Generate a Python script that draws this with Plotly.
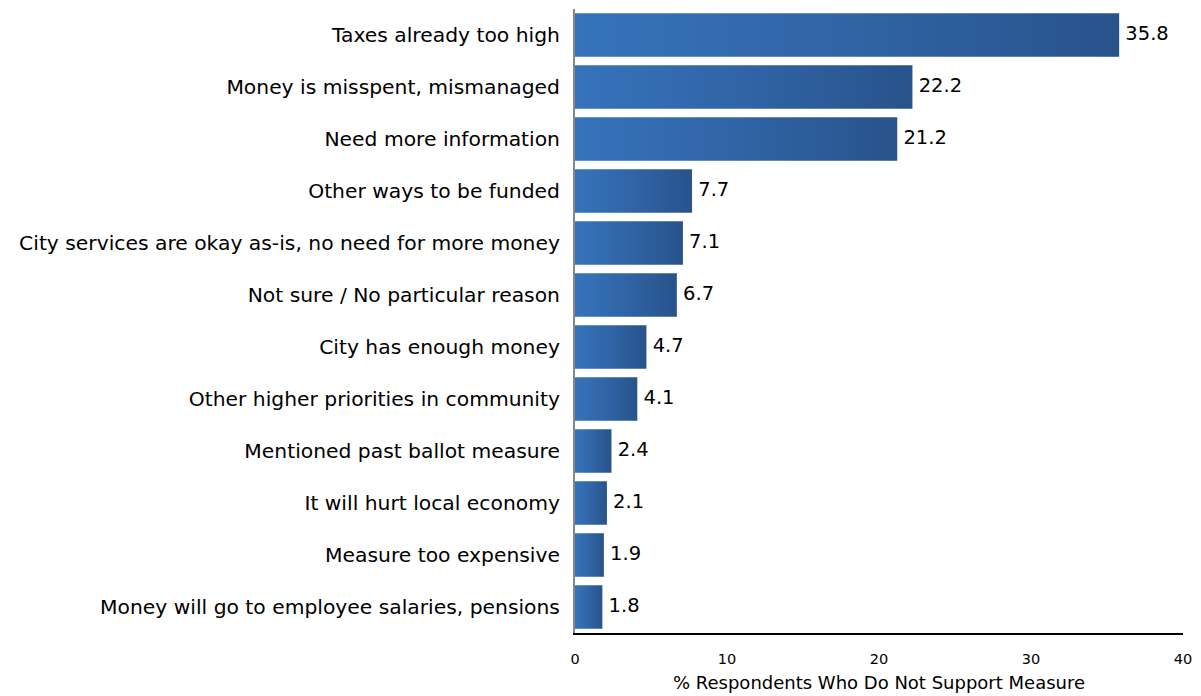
import plotly.graph_objects as go

categories = [
    "Taxes already too high",
    "Money is misspent, mismanaged",
    "Need more information",
    "Other ways to be funded",
    "City services are okay as-is, no need for more money",
    "Not sure / No particular reason",
    "City has enough money",
    "Other higher priorities in community",
    "Mentioned past ballot measure",
    "It will hurt local economy",
    "Measure too expensive",
    "Money will go to employee salaries, pensions",
]
values = [35.8, 22.2, 21.2, 7.7, 7.1, 6.7, 4.7, 4.1, 2.4, 2.1, 1.9, 1.8]
x_ticks = [0, 10, 20, 30, 40]

BAR_HALF = 0.42
FONT = "DejaVu Sans"

fig = go.Figure()

# each bar is a filled polygon so it can carry a left-to-right gradient
for i, v in enumerate(values):
    fig.add_trace(go.Scatter(
        x=[0, v, v, 0, 0],
        y=[i - BAR_HALF, i - BAR_HALF, i + BAR_HALF, i + BAR_HALF, i - BAR_HALF],
        mode="lines",
        line=dict(width=0),
        fill="toself",
        fillgradient=dict(
            type="horizontal",
            colorscale=[[0, "#3673ba"], [0.45, "#3166a8"], [1, "#28538b"]],
        ),
        hoverinfo="skip",
        showlegend=False,
    ))

# value labels at the end of each bar
fig.add_trace(go.Scatter(
    x=values,
    y=list(range(len(values))),
    mode="text",
    text=[f" {v:.1f}" for v in values],
    textposition="middle right",
    textfont=dict(family=FONT, size=19.5, color="#000000"),
    hoverinfo="skip",
    showlegend=False,
))

fig.update_layout(
    width=1201,
    height=696,
    margin=dict(l=575, r=18, t=9, b=63),
    paper_bgcolor="white",
    plot_bgcolor="white",
    font=dict(family=FONT, color="#000000"),
    xaxis=dict(
        range=[0, 40],
        tickvals=x_ticks,
        ticktext=[str(t) for t in x_ticks],
        tickfont=dict(size=14.5),
        showgrid=False,
        zeroline=False,
        showline=True,
        linecolor="#000000",
        linewidth=1.5,
        ticks="",
        ticklabelstandoff=12,
        automargin=False,
        title=dict(text="% Respondents Who Do Not Support Measure",
                   font=dict(size=18), standoff=10),
    ),
    yaxis=dict(
        range=[len(categories) - 0.5, -0.5],
        tickvals=list(range(len(categories))),
        ticktext=categories,
        tickfont=dict(size=20.3),
        showgrid=False,
        zeroline=False,
        showline=True,
        linecolor="#888888",
        linewidth=2,
        ticks="",
        ticklabelstandoff=9,
        automargin=False,
    ),
)

fig.write_html("out.html")
